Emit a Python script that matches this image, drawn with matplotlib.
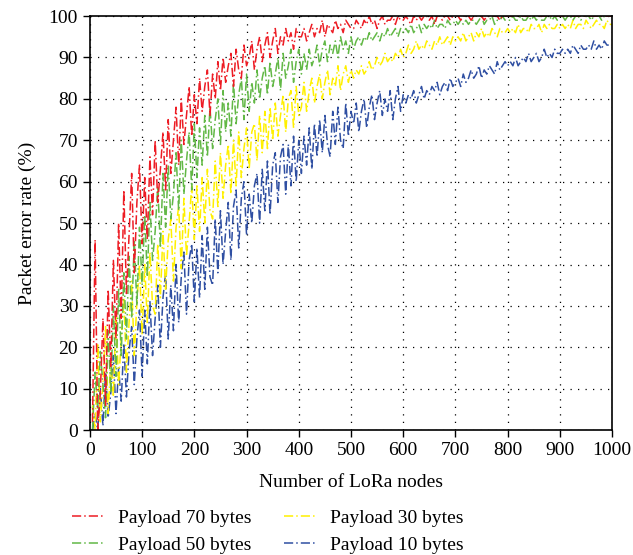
import matplotlib
matplotlib.use("Agg")
import matplotlib.pyplot as plt

plt.rcParams['font.family'] = ['Liberation Serif', 'DejaVu Serif']

nodes = list(range(5, 1001, 5))

red = [2, 46, 0, 9, 27, 6, 34, 15, 41, 22, 50, 27, 58, 33, 47, 62, 38, 55, 64, 45,
       61, 46, 66, 52, 70, 55, 63, 72, 58, 75, 62, 70, 78, 64, 80, 69, 76, 83, 71, 81,
       74, 85, 77, 83, 87, 76, 86, 80, 89, 82, 90, 84, 88, 91, 83, 92, 87, 85, 93, 88,
       90, 94, 87, 92, 95, 89, 93, 96, 90, 94, 97, 91, 95, 93, 97, 94, 96, 92, 97, 95,
       95, 97, 94, 96, 98, 95, 97, 96, 99, 95, 98, 97, 96, 99, 97, 98, 96, 99, 98, 97,
       97, 99, 98, 97, 99, 98, 100, 98, 99, 97, 99, 100, 98, 99, 99, 100, 98, 100, 99, 99,
       100, 99, 98, 100, 99, 100, 99, 100, 100, 99, 100, 98, 100, 100, 99, 100, 100, 99, 100, 100,
       100, 99, 100, 100, 100, 99, 100, 100, 100, 100, 99, 100, 100, 100, 100, 100, 99, 100, 100, 100,
       100, 100, 100, 100, 100, 100, 100, 100, 100, 100, 100, 100, 100, 100, 100, 100, 100, 100, 100, 100,
       100, 100, 100, 100, 100, 100, 100, 100, 100, 100, 100, 100, 100, 100, 100, 100, 100, 100, 100, 100]

green = [0, 14, 5, 19, 11, 3, 24, 9, 30, 13, 34, 18, 38, 22, 42, 27, 46, 30, 49, 35,
         52, 37, 55, 41, 48, 59, 44, 62, 49, 64, 51, 57, 67, 53, 70, 57, 65, 72, 58, 74,
         61, 73, 64, 76, 66, 78, 68, 75, 80, 69, 82, 72, 79, 71, 84, 74, 81, 85, 75, 86,
         77, 84, 79, 87, 80, 85, 88, 81, 89, 83, 86, 90, 82, 91, 85, 88, 92, 84, 89, 92,
         86, 91, 87, 92, 88, 90, 93, 88, 92, 94, 89, 93, 91, 94, 90, 95, 92, 94, 91, 95,
         92, 94, 95, 93, 95, 94, 96, 94, 95, 96, 94, 96, 95, 97, 95, 96, 97, 95, 97, 96,
         97, 96, 98, 96, 97, 98, 96, 98, 97, 98, 97, 99, 97, 98, 98, 97, 99, 98, 98, 99,
         98, 99, 98, 99, 98, 99, 99, 98, 99, 100, 98, 99, 99, 100, 98, 99, 99, 100, 99, 99,
         99, 100, 99, 99, 100, 99, 99, 100, 99, 100, 99, 100, 99, 99, 100, 100, 99, 100, 99, 100,
         100, 99, 100, 100, 99, 100, 100, 99, 100, 100, 100, 99, 100, 100, 100, 99, 100, 100, 100, 100]

yellow = [6, 0, 21, 2, 11, 25, 4, 17, 8, 28, 11, 22, 32, 14, 26, 36, 18, 31, 40, 23,
          40, 26, 43, 30, 28, 45, 32, 48, 34, 46, 51, 36, 49, 54, 39, 56, 42, 50, 59, 46,
          59, 48, 61, 50, 63, 53, 51, 65, 54, 67, 56, 64, 69, 57, 70, 59, 72, 61, 68, 73,
          63, 72, 74, 65, 76, 67, 77, 68, 78, 70, 79, 71, 76, 81, 72, 80, 82, 73, 83, 76,
          78, 84, 77, 82, 85, 79, 83, 86, 80, 84, 87, 81, 85, 83, 88, 82, 86, 88, 84, 87,
          85, 87, 86, 88, 86, 87, 89, 87, 88, 90, 88, 89, 91, 89, 90, 89, 91, 90, 92, 90,
          91, 93, 91, 92, 94, 92, 93, 92, 94, 93, 92, 94, 93, 95, 93, 94, 95, 93, 95, 94,
          95, 94, 96, 94, 95, 96, 94, 96, 95, 97, 95, 96, 95, 97, 96, 95, 97, 96, 96, 97,
          96, 97, 96, 98, 96, 97, 97, 96, 98, 97, 97, 98, 96, 98, 97, 98, 97, 97, 98, 97,
          98, 97, 98, 97, 99, 97, 98, 98, 97, 99, 98, 97, 98, 99, 98, 98, 97, 99, 98, 98]

blue = [0, 4, 0, 10, 1, 14, 3, 9, 18, 4, 15, 7, 21, 8, 19, 25, 11, 22, 29, 13,
        29, 16, 31, 18, 27, 35, 20, 32, 38, 22, 35, 24, 40, 26, 37, 43, 28, 41, 45, 31,
        44, 32, 47, 34, 49, 37, 35, 51, 38, 53, 40, 48, 55, 41, 54, 58, 44, 56, 60, 47,
        57, 50, 59, 62, 50, 63, 53, 65, 52, 64, 67, 55, 66, 69, 57, 69, 59, 71, 60, 70,
        62, 71, 64, 73, 63, 74, 66, 75, 67, 76, 69, 66, 77, 69, 78, 70, 68, 79, 71, 77,
        74, 79, 72, 77, 80, 73, 78, 81, 75, 79, 82, 76, 80, 77, 82, 75, 80, 83, 77, 81,
        79, 81, 80, 82, 79, 81, 83, 80, 82, 81, 83, 82, 84, 81, 83, 84, 82, 85, 83, 84,
        85, 83, 86, 84, 85, 87, 85, 86, 88, 85, 87, 86, 88, 87, 86, 89, 87, 88, 89, 88,
        89, 88, 90, 88, 89, 90, 89, 91, 89, 90, 91, 89, 90, 92, 90, 91, 90, 92, 91, 91,
        92, 91, 92, 91, 93, 92, 91, 93, 92, 92, 93, 92, 94, 92, 93, 92, 94, 93, 93, 93]

labels = ["Payload 70 bytes", "Payload 50 bytes", "Payload 30 bytes", "Payload 10 bytes"]
colors = ["#ED1C24", "#62B846", "#FFF000", "#2F4FA2"]
series = [red, green, yellow, blue]

fig = plt.figure(figsize=(6.33, 5.55), dpi=100)
ax = fig.add_axes([0.142, 0.225, 0.825, 0.746])

lines = []
for s, c, l in zip(series[::-1], colors[::-1], labels[::-1]):
    ln, = ax.plot(nodes, s, color=c, lw=1.1, linestyle=(0, (6, 2, 1, 2)), label=l)
    lines.append(ln)
lines = lines[::-1]

ax.set_xlim(0, 1000)
ax.set_ylim(0, 100)
ax.set_xticks(range(0, 1001, 100))
ax.set_yticks(range(0, 101, 10))
ax.grid(True, color='black', linestyle=(0, (1, 5)), linewidth=0.9)
for sp in ax.spines.values():
    sp.set_linewidth(1.2)
ax.tick_params(direction='out', length=5, width=1.0, labelsize=14)
ax.set_xlabel("Number of LoRa nodes", fontsize=14, labelpad=11)
ax.set_ylabel("Packet error rate (%)", fontsize=14, labelpad=9)

leg = fig.legend(lines, labels, loc='lower left', bbox_to_anchor=(0.092, -0.022),
                 ncol=2, frameon=False, fontsize=14, columnspacing=1.7,
                 handlelength=1.7, handletextpad=0.65, labelspacing=0.45,
                 borderaxespad=0.3)

fig.savefig("out.png", dpi=100)
